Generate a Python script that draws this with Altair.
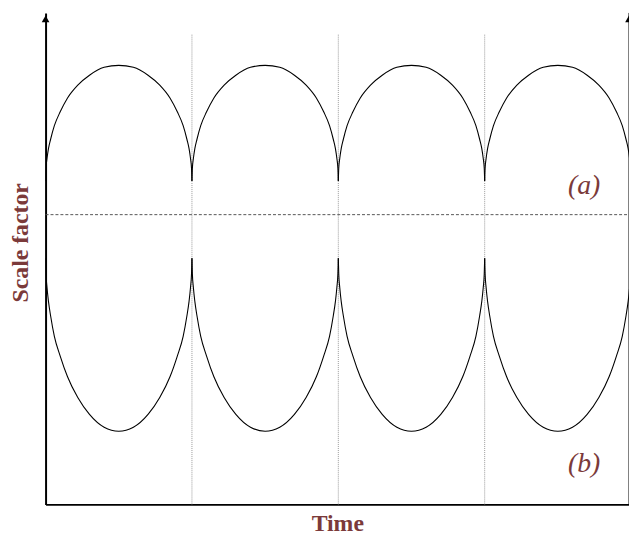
import altair as alt
import pandas as pd

# Shape of one cycle (fraction of the period)
cycle_u = [0, 0.003, 0.01, 0.02, 0.034, 0.06, 0.1, 0.15, 0.22, 0.3, 0.4, 0.5,
           0.6, 0.7, 0.78, 0.85, 0.9, 0.94, 0.966, 0.98, 0.99, 0.997, 1.0]
# (a) upper curve, height above the time axis
upper_a = [327, 340, 350, 360, 369, 383, 397, 411, 424, 434, 442, 444,
           442, 434, 424, 411, 397, 383, 369, 360, 350, 340, 327]
# (b) lower curve
lower_b = [249, 233, 219, 205, 191, 170, 150, 129, 108, 91, 78, 74,
           78, 91, 108, 129, 150, 170, 191, 205, 219, 233, 249]
cycle_starts = [0, 1, 2, 3]
cycle_marks = [1, 2, 3]          # dotted verticals
mid_level = [293]                # dashed horizontal
x_max = 3.986
y_max = 497
labels = ["(a)", "(b)"]
label_x = [3.68, 3.68]
label_y = [322, 41]

rows = []
for k in cycle_starts:
    for u, ya, yb in zip(cycle_u, upper_a, lower_b):
        rows.append({"t": k + u, "y": ya, "arc": f"a{k}"})
        rows.append({"t": k + u, "y": yb, "arc": f"b{k}"})
curves = pd.DataFrame(rows)

xs = alt.Scale(domain=[0, x_max], nice=False, zero=False)
ys = alt.Scale(domain=[0, y_max], nice=False, zero=False)
maroon = "#7b3a3a"

x_axis = alt.Axis(title="Time", labels=False, ticks=False, grid=False,
                  domainColor="black", domainWidth=2,
                  titleFont="Liberation Serif", titleFontSize=24, titleFontWeight="bold",
                  titleColor=maroon, titlePadding=7)
y_axis = alt.Axis(title="Scale factor", labels=False, ticks=False, grid=False,
                  domainColor="black", domainWidth=2,
                  titleFont="Liberation Serif", titleFontSize=24, titleFontWeight="bold",
                  titleColor=maroon, titleAngle=270, titleAlign="center",
                  titleBaseline="middle", titleX=-25, titleY=232)


def X(f):
    return alt.X(f, scale=xs, axis=x_axis, title="Time")


def Y(f):
    return alt.Y(f, scale=ys, axis=y_axis, title="Scale factor")


lines = alt.Chart(curves).mark_line(color="black", strokeWidth=1.1,
                                    interpolate="monotone", clip=True).encode(
    x=X("t:Q"), y=Y("y:Q"), detail="arc:N")

vdf = pd.DataFrame({"t": cycle_marks, "y0": [0] * 3, "y1": [475] * 3})
vrules = alt.Chart(vdf).mark_rule(color="#9a9a9a", strokeWidth=1,
                                  strokeDash=[1, 1]).encode(
    x=X("t:Q"), y=Y("y0:Q"), y2="y1:Q")

hdf = pd.DataFrame({"y": mid_level, "t0": [0], "t1": [x_max]})
hrule = alt.Chart(hdf).mark_rule(color="#555555", strokeWidth=1,
                                 strokeDash=[3, 2]).encode(
    y=Y("y:Q"), x=X("t0:Q"), x2="t1:Q")

rdf = pd.DataFrame({"t": [x_max], "y0": [0], "y1": [y_max]})
rrule = alt.Chart(rdf).mark_rule(color="black", strokeWidth=1).encode(
    x=X("t:Q"), y=Y("y0:Q"), y2="y1:Q")

adf = pd.DataFrame({"t": [0, x_max], "y": [y_max - 6, y_max - 6]})
arrows = alt.Chart(adf).mark_point(shape="triangle-up", filled=True, color="black",
                                   size=60, opacity=1).encode(
    x=X("t:Q"), y=Y("y:Q"))

ldf = pd.DataFrame({"label": labels, "t": label_x, "y": label_y})
texts = alt.Chart(ldf).mark_text(font="Liberation Serif", fontStyle="italic",
                                 fontSize=28, color=maroon).encode(
    x=X("t:Q"), y=Y("y:Q"), text="label:N")

chart = alt.layer(vrules, hrule, rrule, lines, arrows, texts).properties(
    width=590, height=497,
    autosize=alt.AutoSizeParams(type="none"),
    padding={"left": 38, "top": 2, "right": 0, "bottom": 30},
).configure_view(stroke=None)

chart.save("out.html", embed_options={"renderer": "svg", "actions": False})
